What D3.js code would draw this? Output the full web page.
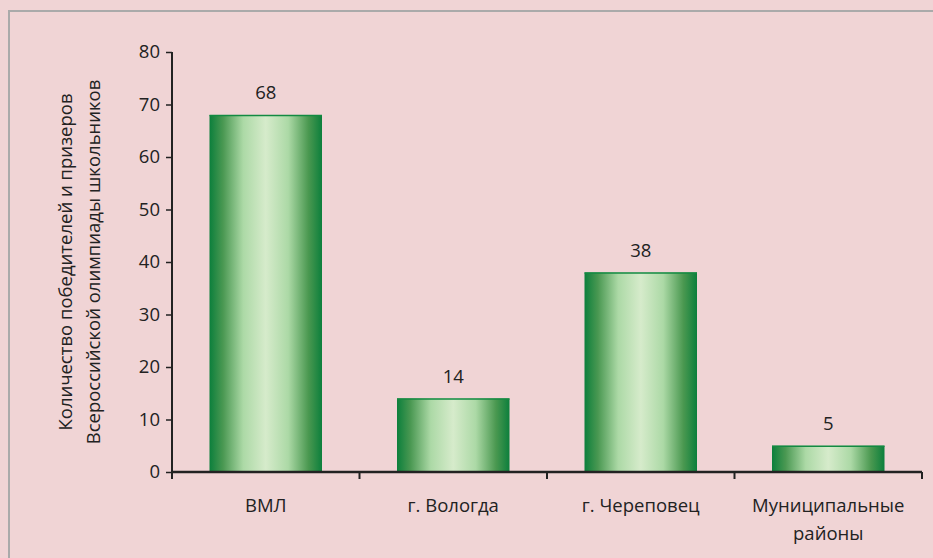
<!DOCTYPE html>
<meta charset="utf-8">
<head>
<style>
  body { margin: 0; background: #f0d4d5; }
  text { font-family: "Open Sans", "Noto Sans", sans-serif; fill: #222; }
</style>
</head>
<body>
<svg width="933" height="558"></svg>

<script src="https://cdn.jsdelivr.net/npm/d3@7"></script>
<script>
var categories = ["ВМЛ", "г. Вологда", "г. Череповец", "Муниципальные районы"];
var values = [68, 14, 38, 5];
var yTicks = [0, 10, 20, 30, 40, 50, 60, 70, 80];
var yTitle = ["Количество победителей и призеров", "Всероссийской олимпиады школьников"];

var data = categories.map(function(c, i) { return {cat: c, val: values[i]}; });

var svg = d3.select("svg"),
    margin = {top: 52, right: 11, bottom: 86, left: 172},
    width = +svg.attr("width") - margin.left - margin.right,
    height = +svg.attr("height") - margin.top - margin.bottom;

// frame around the plot area
svg.append("rect")
    .attr("x", 9).attr("y", 11)
    .attr("width", 940).attr("height", 560)
    .attr("fill", "none")
    .attr("stroke", "#aaaaaa")
    .attr("stroke-width", 2);

var defs = svg.append("defs");
var grad = defs.append("linearGradient")
    .attr("id", "barGrad")
    .attr("x1", "0%").attr("x2", "100%").attr("y1", "0%").attr("y2", "0%");
[[0, "#0c7f3c"], [0.12, "#4a9852"], [0.3, "#acd9a6"], [0.5, "#d6ebcb"], [0.7, "#acd9a6"], [0.88, "#4a9850"], [1, "#0c7f3c"]]
  .forEach(function(s) {
    grad.append("stop").attr("offset", s[0]).attr("stop-color", s[1]);
  });

var g = svg.append("g").attr("transform", "translate(" + margin.left + "," + margin.top + ")");

var x = d3.scaleBand().domain(categories).range([0, width]).paddingInner(0.4).paddingOuter(0.2);
var y = d3.scaleLinear().domain([0, 80]).range([height, 0]);

g.selectAll(".bar")
  .data(data)
  .enter().append("rect")
    .attr("class", "bar")
    .attr("x", function(d) { return x(d.cat); })
    .attr("y", function(d) { return y(d.val); })
    .attr("width", x.bandwidth())
    .attr("height", function(d) { return height - y(d.val); })
    .attr("fill", "url(#barGrad)");

// thin dark top edge of each bar
g.selectAll(".bartop")
  .data(data)
  .enter().append("line")
    .attr("x1", function(d) { return x(d.cat); })
    .attr("x2", function(d) { return x(d.cat) + x.bandwidth(); })
    .attr("y1", function(d) { return y(d.val) + 0.5; })
    .attr("y2", function(d) { return y(d.val) + 0.5; })
    .attr("stroke", "#138a42")
    .attr("stroke-width", 1.5);

g.selectAll(".val")
  .data(data)
  .enter().append("text")
    .attr("x", function(d) { return x(d.cat) + x.bandwidth() / 2; })
    .attr("y", function(d) { return y(d.val) - 16; })
    .attr("text-anchor", "middle")
    .style("font-size", "18.5px")
    .text(function(d) { return d.val; });

// y axis
var yAxis = g.append("g")
    .call(d3.axisLeft(y).tickValues(yTicks).tickSize(6).tickPadding(6));
yAxis.select(".domain").attr("stroke", "#222").attr("stroke-width", 2).attr("d", "M0," + height + "V0");
yAxis.selectAll(".tick line").attr("stroke", "#222").attr("stroke-width", 1.5);
yAxis.selectAll(".tick text").style("font-size", "18.5px").attr("fill", "#222");

// x axis with ticks at band edges
var xAxis = g.append("g").attr("transform", "translate(0," + height + ")");
xAxis.append("line").attr("x1", 0).attr("x2", width).attr("stroke", "#222").attr("stroke-width", 2.5);
var edges = categories.map(function(c) { return x(c) - x.step() * 0.2; }).concat([width]);
xAxis.selectAll(".xt").data(edges).enter().append("line")
    .attr("x1", function(d) { return d; }).attr("x2", function(d) { return d; })
    .attr("y1", 0).attr("y2", 7)
    .attr("stroke", "#222").attr("stroke-width", 2);

xAxis.selectAll(".xl").data(categories).enter().append("text")
    .attr("x", function(d) { return x(d) + x.bandwidth() / 2; })
    .attr("y", 40)
    .attr("text-anchor", "middle")
    .style("font-size", "18.5px")
    .each(function(d) {
      var t = d3.select(this);
      var parts = d === "Муниципальные районы" ? ["Муниципальные", "районы"] : [d];
      parts.forEach(function(p, i) {
        t.append("tspan").attr("x", x(d) + x.bandwidth() / 2).attr("dy", i ? 28 : 0).text(p);
      });
    });

// y title
var yt = svg.append("text")
    .attr("transform", "translate(72,262) rotate(-90)")
    .attr("text-anchor", "middle")
    .style("font-size", "18.5px");
yTitle.forEach(function(s, i) {
  yt.append("tspan").attr("x", 0).attr("dy", i ? 28 : 0).text(s);
});
</script>
</body>
